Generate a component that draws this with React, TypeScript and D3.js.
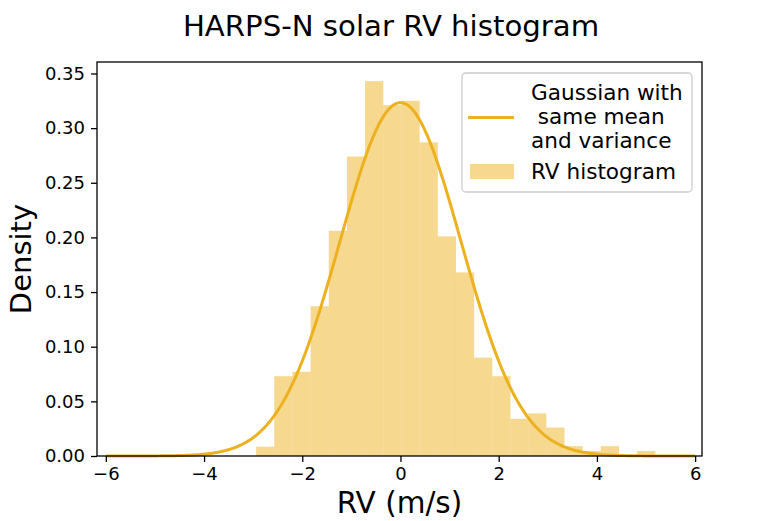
import { useEffect, useRef } from "react";
import * as d3 from "d3";

// histogram bin edges (m/s) and densities
const binEdges = [
  -2.94, -2.57, -2.2, -1.83, -1.46, -1.09, -0.72, -0.35, 0.02, 0.39, 0.76, 1.13,
  1.5, 1.87, 2.24, 2.6, 2.97, 3.34, 3.71, 4.08, 4.45, 4.82, 5.19,
];
const densities = [
  0.0085, 0.073, 0.077, 0.137, 0.206, 0.274, 0.343, 0.321, 0.325, 0.287, 0.201,
  0.168, 0.09, 0.073, 0.034, 0.039, 0.026, 0.009, 0.0046, 0.009, 0, 0.0046,
];

// gaussian with same mean and variance
const gaussMean = 0.0;
const gaussStd = 1.234;
const gaussRange = [-6, 6];

const xTicks = [-6, -4, -2, 0, 2, 4, 6];
const yTicks = [0, 0.05, 0.1, 0.15, 0.2, 0.25, 0.3, 0.35];
const legendLines = ["Gaussian with", "\u00a0same mean", "and variance"];
const legendHist = "RV histogram";

const COLOR = "#EDB120";
const FONT = "'DejaVu Sans', sans-serif";

export default function App() {
  const svgRef = useRef<SVGSVGElement | null>(null);

  useEffect(() => {
    if (!svgRef.current) return;
    const width = 781;
    const height = 521;
    const margin = { top: 62, right: 79, bottom: 65, left: 97 };

    const svg = d3.select(svgRef.current);
    svg.selectAll("*").remove();

    const x = d3
      .scaleLinear()
      .domain([-6.18, 6.14])
      .range([margin.left, width - margin.right]);
    const y = d3
      .scaleLinear()
      .domain([0, 0.3605])
      .range([height - margin.bottom, margin.top]);

    // bars
    const bins = densities.map((d, i) => ({ x0: binEdges[i], x1: binEdges[i + 1], d }));
    svg
      .append("g")
      .selectAll("rect")
      .data(bins.filter((b) => b.d > 0))
      .join("rect")
      .attr("x", (b) => x(b.x0))
      .attr("width", (b) => x(b.x1) - x(b.x0))
      .attr("y", (b) => y(b.d))
      .attr("height", (b) => y(0) - y(b.d))
      .attr("fill", COLOR)
      .attr("fill-opacity", 0.5);

    // gaussian curve
    const xs = d3.range(0, 401).map((i) => gaussRange[0] + ((gaussRange[1] - gaussRange[0]) * i) / 400);
    const pdf = (v: number) =>
      Math.exp(-0.5 * ((v - gaussMean) / gaussStd) ** 2) / (gaussStd * Math.sqrt(2 * Math.PI));
    const line = d3
      .line<number>()
      .x((v) => x(v))
      .y((v) => y(pdf(v)));
    svg
      .append("path")
      .datum(xs)
      .attr("fill", "none")
      .attr("stroke", COLOR)
      .attr("stroke-width", 3)
      .attr("d", line);

    // axes
    const xAxis = svg
      .append("g")
      .attr("transform", `translate(0,${height - margin.bottom})`)
      .call(
        d3
          .axisBottom(x)
          .tickValues(xTicks)
          .tickSize(6)
          .tickPadding(5)
          .tickSizeOuter(0)
          .tickFormat((d) => d3.format("d")(d as number).replace("-", "\u2212"))
      );
    const yAxis = svg
      .append("g")
      .attr("transform", `translate(${margin.left},0)`)
      .call(
        d3
          .axisLeft(y)
          .tickValues(yTicks)
          .tickSize(6)
          .tickPadding(6)
          .tickSizeOuter(0)
          .tickFormat(d3.format(".2f") as any)
      );
    [xAxis, yAxis].forEach((g) => {
      g.select(".domain").remove();
      g.selectAll("line").attr("stroke", "#000").attr("stroke-width", 1.3);
      g.selectAll("text")
        .attr("fill", "#000")
        .style("font-family", FONT)
        .style("font-size", "18px");
    });

    // spines
    svg
      .append("rect")
      .attr("x", margin.left)
      .attr("y", margin.top)
      .attr("width", width - margin.left - margin.right)
      .attr("height", height - margin.top - margin.bottom)
      .attr("fill", "none")
      .attr("stroke", "#000")
      .attr("stroke-width", 1.3);

    // legend
    const lg = svg.append("g");
    lg.append("rect")
      .attr("x", 462)
      .attr("y", 73)
      .attr("width", 230)
      .attr("height", 119)
      .attr("rx", 4)
      .attr("fill", "#fff")
      .attr("fill-opacity", 0.8)
      .attr("stroke", "#cccccc")
      .attr("stroke-width", 1.3);
    lg.append("line")
      .attr("x1", 468)
      .attr("x2", 514)
      .attr("y1", 117.5)
      .attr("y2", 117.5)
      .attr("stroke", COLOR)
      .attr("stroke-width", 3);
    lg.append("rect")
      .attr("x", 470)
      .attr("y", 164)
      .attr("width", 44)
      .attr("height", 15)
      .attr("fill", COLOR)
      .attr("fill-opacity", 0.5);
    lg.selectAll("text.lbl")
      .data(legendLines)
      .join("text")
      .attr("class", "lbl")
      .attr("x", 531)
      .attr("y", (_, i) => 99.5 + i * 24)
      .text((d) => d);
    lg.append("text").attr("x", 531).attr("y", 179).text(legendHist);
    lg.selectAll("text").style("font-family", FONT).style("font-size", "21.6px").attr("fill", "#000");

    // title and axis labels
    svg
      .append("text")
      .attr("x", 391)
      .attr("y", 35.5)
      .attr("text-anchor", "middle")
      .style("font-family", FONT)
      .style("font-size", "29.2px")
      .text("HARPS-N solar RV histogram");
    svg
      .append("text")
      .attr("x", (margin.left + width - margin.right) / 2)
      .attr("y", 513)
      .attr("text-anchor", "middle")
      .style("font-family", FONT)
      .style("font-size", "29.5px")
      .text("RV (m/s)");
    svg
      .append("text")
      .attr("transform", `translate(31,${(margin.top + height - margin.bottom) / 2}) rotate(-90)`)
      .attr("text-anchor", "middle")
      .style("font-family", FONT)
      .style("font-size", "29px")
      .text("Density");
  }, []);

  return (
    <div style={{ position: "fixed", left: 0, top: 0, width: 781, height: 521, background: "#fff" }}>
      <svg ref={svgRef} width={781} height={521} style={{ display: "block" }} />
    </div>
  );
}
